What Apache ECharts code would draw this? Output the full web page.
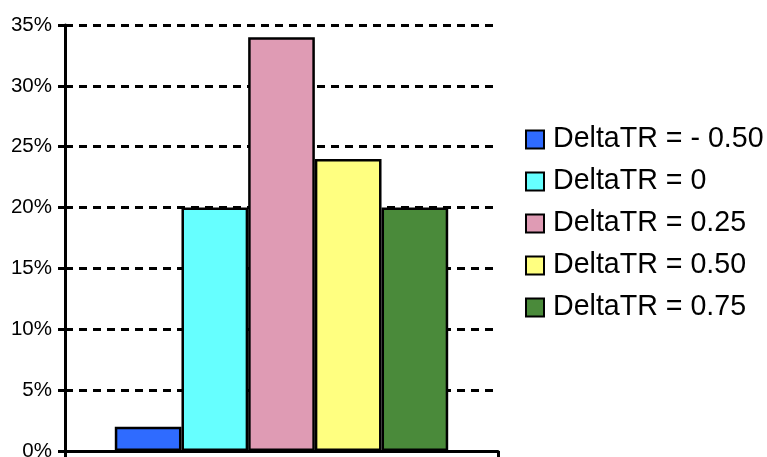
<!DOCTYPE html>
<html><head><meta charset="utf-8">
<script src="https://cdn.jsdelivr.net/npm/echarts@6/dist/echarts.min.js"></script>
<style>html,body{margin:0;padding:0;background:#fff;overflow:hidden}#c{width:767px;height:457px}</style>
</head><body><div id="c"></div>
<script>
const categories = [''];
const seriesNames = ['DeltaTR = - 0.50', 'DeltaTR = 0', 'DeltaTR = 0.25', 'DeltaTR = 0.50', 'DeltaTR = 0.75'];
const seriesValues = [2, 20, 34, 24, 20];
const seriesColors = ['#2F6BFF', '#66FFFF', '#DF9BB4', '#FFFF80', '#4A8A3A'];
const yTicks = [0, 5, 10, 15, 20, 25, 30, 35];

const chart = echarts.init(document.getElementById('c'), null, {renderer: 'canvas'});
const series = seriesNames.map((n, i) => ({
  name: n,
  type: 'bar',
  data: [seriesValues[i]],
  barGap: '0%',
  barCategoryGap: '23%',
  itemStyle: {color: seriesColors[i], borderColor: '#000', borderWidth: 2.5},
  emphasis: {disabled: true}
}));
chart.setOption({
  animation: false,
  grid: {left: 65, right: 269, top: 25, bottom: 6, containLabel: false, outerBoundsMode: 'none'},
  legend: {
    orient: 'vertical', left: 520, top: 120,
    itemWidth: 18, itemHeight: 18, itemGap: 13,
    icon: 'rect',
    itemStyle: {borderColor: '#000', borderWidth: 2},
    textStyle: {fontFamily: 'Liberation Sans, Arial, sans-serif', fontSize: 28.6, color: '#000', lineHeight: 28, padding: [0,0,0,4]},
    data: seriesNames
  },
  xAxis: {
    type: 'category', data: categories,
    axisLine: {lineStyle: {color: '#000', width: 3}},
    axisTick: {show: true, length: 7, lineStyle: {color: '#000', width: 3}},
    axisLabel: {show: false}
  },
  yAxis: {
    type: 'value', min: yTicks[0], max: yTicks[yTicks.length - 1], interval: 5,
    axisLine: {show: true, lineStyle: {color: '#000', width: 3}},
    axisTick: {show: true, length: 7, lineStyle: {color: '#000', width: 3}},
    axisLabel: {formatter: '{value}%', margin: 13, color: '#000', fontSize: 20.5, fontFamily: 'Liberation Sans, Arial, sans-serif'},
    splitLine: {show: true, lineStyle: {color: '#000', width: 3, type: [8, 6]}}
  },
  series: series
});
</script></body></html>
